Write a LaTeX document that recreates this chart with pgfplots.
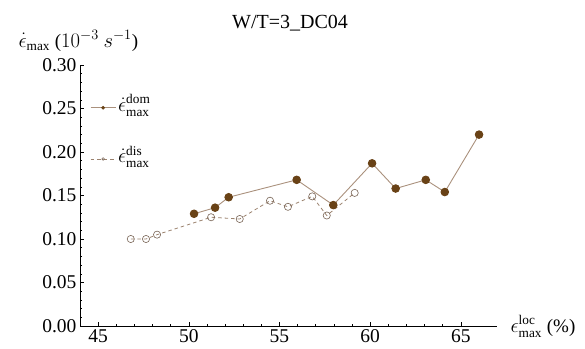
\documentclass[border=0pt]{standalone}
\usepackage{pgfplots}
\pgfplotsset{compat=1.18}
\usepackage{fontspec}
\setmainfont{Liberation Serif}
\definecolor{domfill}{RGB}{105,66,22}
\definecolor{domline}{RGB}{170,145,125}
\definecolor{disline}{RGB}{155,130,110}
\definecolor{disedge}{RGB}{120,100,85}
\pgfplotstableread{
x y
46.80 0.100
47.64 0.100
48.25 0.105
51.23 0.125
52.81 0.123
54.48 0.144
55.47 0.137
56.81 0.149
57.61 0.127
59.15 0.153
}\dis
\pgfplotstableread{
x y
50.29 0.129
51.45 0.136
52.20 0.148
55.95 0.168
57.97 0.139
60.11 0.187
61.41 0.158
63.07 0.168
64.12 0.154
66.01 0.220
}\dom
\begin{document}
\begin{tikzpicture}[x=1bp,y=1bp]
\begin{axis}[
  at={(80bp,22bp)}, anchor=south west,
  scale only axis, width=417bp, height=261bp,
  xmin=44, xmax=67, ymin=0, ymax=0.30,
  axis lines=left, axis line style={-, black},
  xtick={45,50,55,60,65}, ytick={0,0.05,0.10,0.15,0.20,0.25,0.30},
  minor x tick num=4, minor y tick num=4,
  tick align=inside, tick style={black, line width=0.5bp},
  major tick length=4bp, minor tick length=2.2bp,
  yticklabel style={/pgf/number format/.cd, fixed, fixed zerofill, precision=2},
  xticklabel style={/pgf/number format/.cd, fixed},
  /pgf/number format/assume math mode=true,
  ticklabel style={font=\fontsize{19.5bp}{21bp}\selectfont},
  reverse legend,
  legend style={draw=none, fill=none, at={(axis cs:44.55,0.226)}, anchor=west,
    font=\fontsize{19bp}{21bp}\selectfont, row sep=29bp, inner sep=0pt,
    legend cell align=left},
  legend image code/.code={
    \draw[#1] (0bp,-4bp) -- (25bp,-4bp);
    \draw[#1, mark size=1.3bp] plot coordinates {(12.5bp,-4bp)};
  },
  clip=false,
]
\addplot[disline, densely dashed, dash pattern=on 3.5bp off 3bp, line width=0.8bp,
  mark=o, mark size=3.6bp, mark options={solid, draw=disedge, fill=white, line width=0.6bp}]
  table[x=x,y=y]{\dis};
\addplot[domline, line width=0.9bp,
  mark=*, mark size=3.8bp, mark options={solid, draw=domfill, fill=domfill}]
  table[x=x,y=y]{\dom};
\legend{$\dot{\epsilon}_{\mathrm{max}}^{\mathrm{dis}}$,$\dot{\epsilon}_{\mathrm{max}}^{\mathrm{dom}}$}
\end{axis}
\node[anchor=base west, font=\fontsize{19bp}{21bp}\selectfont] at (15,301) {$\dot{\epsilon}_{\mathrm{max}}$ ($10^{-3}\ s^{-1}$)};
\node[anchor=base west, font=\fontsize{19bp}{21bp}\selectfont] at (507,16) {$\epsilon_{\mathrm{max}}^{\mathrm{loc}}$ (\%)};
\node[anchor=base, font=\fontsize{20bp}{22bp}\selectfont] at (290,320) {W/T=3\_DC04};
\pgfresetboundingbox
\useasboundingbox (0,0) rectangle (585,348);
\end{tikzpicture}
\end{document}
